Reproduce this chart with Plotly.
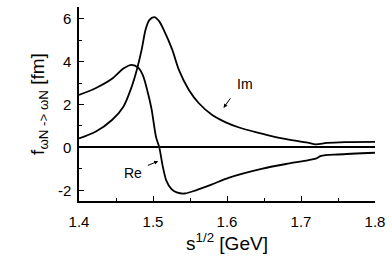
import plotly.graph_objects as go

im_x = [1.400, 1.4223, 1.4446, 1.460, 1.4713, 1.478, 1.4847, 1.490, 1.495, 1.5017, 1.508, 1.515, 1.526, 1.535, 1.5485, 1.562, 1.580, 1.5976, 1.6154, 1.640, 1.669, 1.709, 1.720, 1.735, 1.760, 1.800]
im_y = [0.42, 0.73, 1.28, 1.90, 2.84, 3.60, 4.56, 5.50, 5.94, 6.08, 5.90, 5.45, 4.56, 3.62, 2.68, 2.06, 1.51, 1.18, 0.94, 0.70, 0.46, 0.22, 0.14, 0.21, 0.25, 0.26]

re_x = [1.400, 1.4223, 1.4446, 1.460, 1.4713, 1.480, 1.4865, 1.4927, 1.498, 1.504, 1.5085, 1.513, 1.518, 1.525, 1.532, 1.543, 1.558, 1.580, 1.602, 1.6466, 1.682, 1.709, 1.720, 1.727, 1.750, 1.800]
re_y = [2.45, 2.76, 3.20, 3.68, 3.85, 3.72, 3.35, 2.60, 1.80, 0.50, 0.00, -0.85, -1.55, -1.95, -2.10, -2.15, -2.00, -1.72, -1.42, -1.00, -0.76, -0.60, -0.52, -0.40, -0.33, -0.25]

x_ticks = [1.4, 1.5, 1.6, 1.7, 1.8]
x_labels = ["1.4", "1.5", "1.6", "1.7", "1.8"]
y_ticks = [-2, 0, 2, 4, 6]
y_labels = ["-2", "0", "2", "4", "6"]

FONT = "Liberation Sans, Arial, sans-serif"

fig = go.Figure()
for xs, ys in [(im_x, im_y), (re_x, re_y)]:
    fig.add_trace(go.Scatter(x=xs, y=ys, mode="lines",
                             line=dict(color="black", width=1.8, shape="spline", smoothing=0.8),
                             showlegend=False, hoverinfo="skip"))

fig.update_layout(
    width=392, height=273,
    margin=dict(l=79, r=14, t=7, b=72),
    paper_bgcolor="white", plot_bgcolor="white",
    font=dict(family=FONT, color="black", size=14),
)
fig.update_xaxes(
    range=[1.4, 1.8], tickvals=x_ticks, ticktext=x_labels,
    showline=True, linecolor="black", linewidth=1.5, mirror=False,
    ticks="inside", ticklen=5, tickwidth=1.2, tickcolor="black",
    minor=dict(ticks="inside", ticklen=3, tickwidth=1.2, tickcolor="black", dtick=0.05, tick0=1.4),
    showgrid=False, zeroline=False,
    tickfont=dict(size=15), ticklabelstandoff=6,
    title=dict(text="s<sup>1/2</sup> [GeV]", font=dict(size=19), standoff=2),
)
fig.update_yaxes(
    range=[-2.5, 6.55], tickvals=y_ticks, ticktext=y_labels,
    showline=True, linecolor="black", linewidth=1.5, mirror=False,
    ticks="inside", ticklen=5, tickwidth=1.2, tickcolor="black",
    minor=dict(ticks="inside", ticklen=3, tickwidth=1.2, tickcolor="black", dtick=1, tick0=-3),
    showgrid=False, zeroline=True, zerolinecolor="black", zerolinewidth=1.5,
    tickfont=dict(size=15), ticklabelstandoff=3,
    title=dict(text="f<sub>ωN -&gt; ωN</sub> [fm]", font=dict(size=19), standoff=8),
)

fig.add_annotation(x=1.6248, y=2.96, text="Im", showarrow=False, font=dict(size=14))
fig.add_annotation(x=1.5953, y=1.84, ax=1.606, ay=2.36, axref="x", ayref="y",
                   text="", showarrow=True, arrowhead=2, arrowsize=0.8, arrowwidth=1, arrowcolor="black")
fig.add_annotation(x=1.4736, y=-1.20, text="Re", showarrow=False, font=dict(size=14))
fig.add_annotation(x=1.507, y=-0.64, ax=1.491, ay=-0.87, axref="x", ayref="y",
                   text="", showarrow=True, arrowhead=2, arrowsize=0.8, arrowwidth=1, arrowcolor="black")

fig.write_html("out.html", config={"displayModeBar": False},
               post_script="document.body.style.margin='0px';")
